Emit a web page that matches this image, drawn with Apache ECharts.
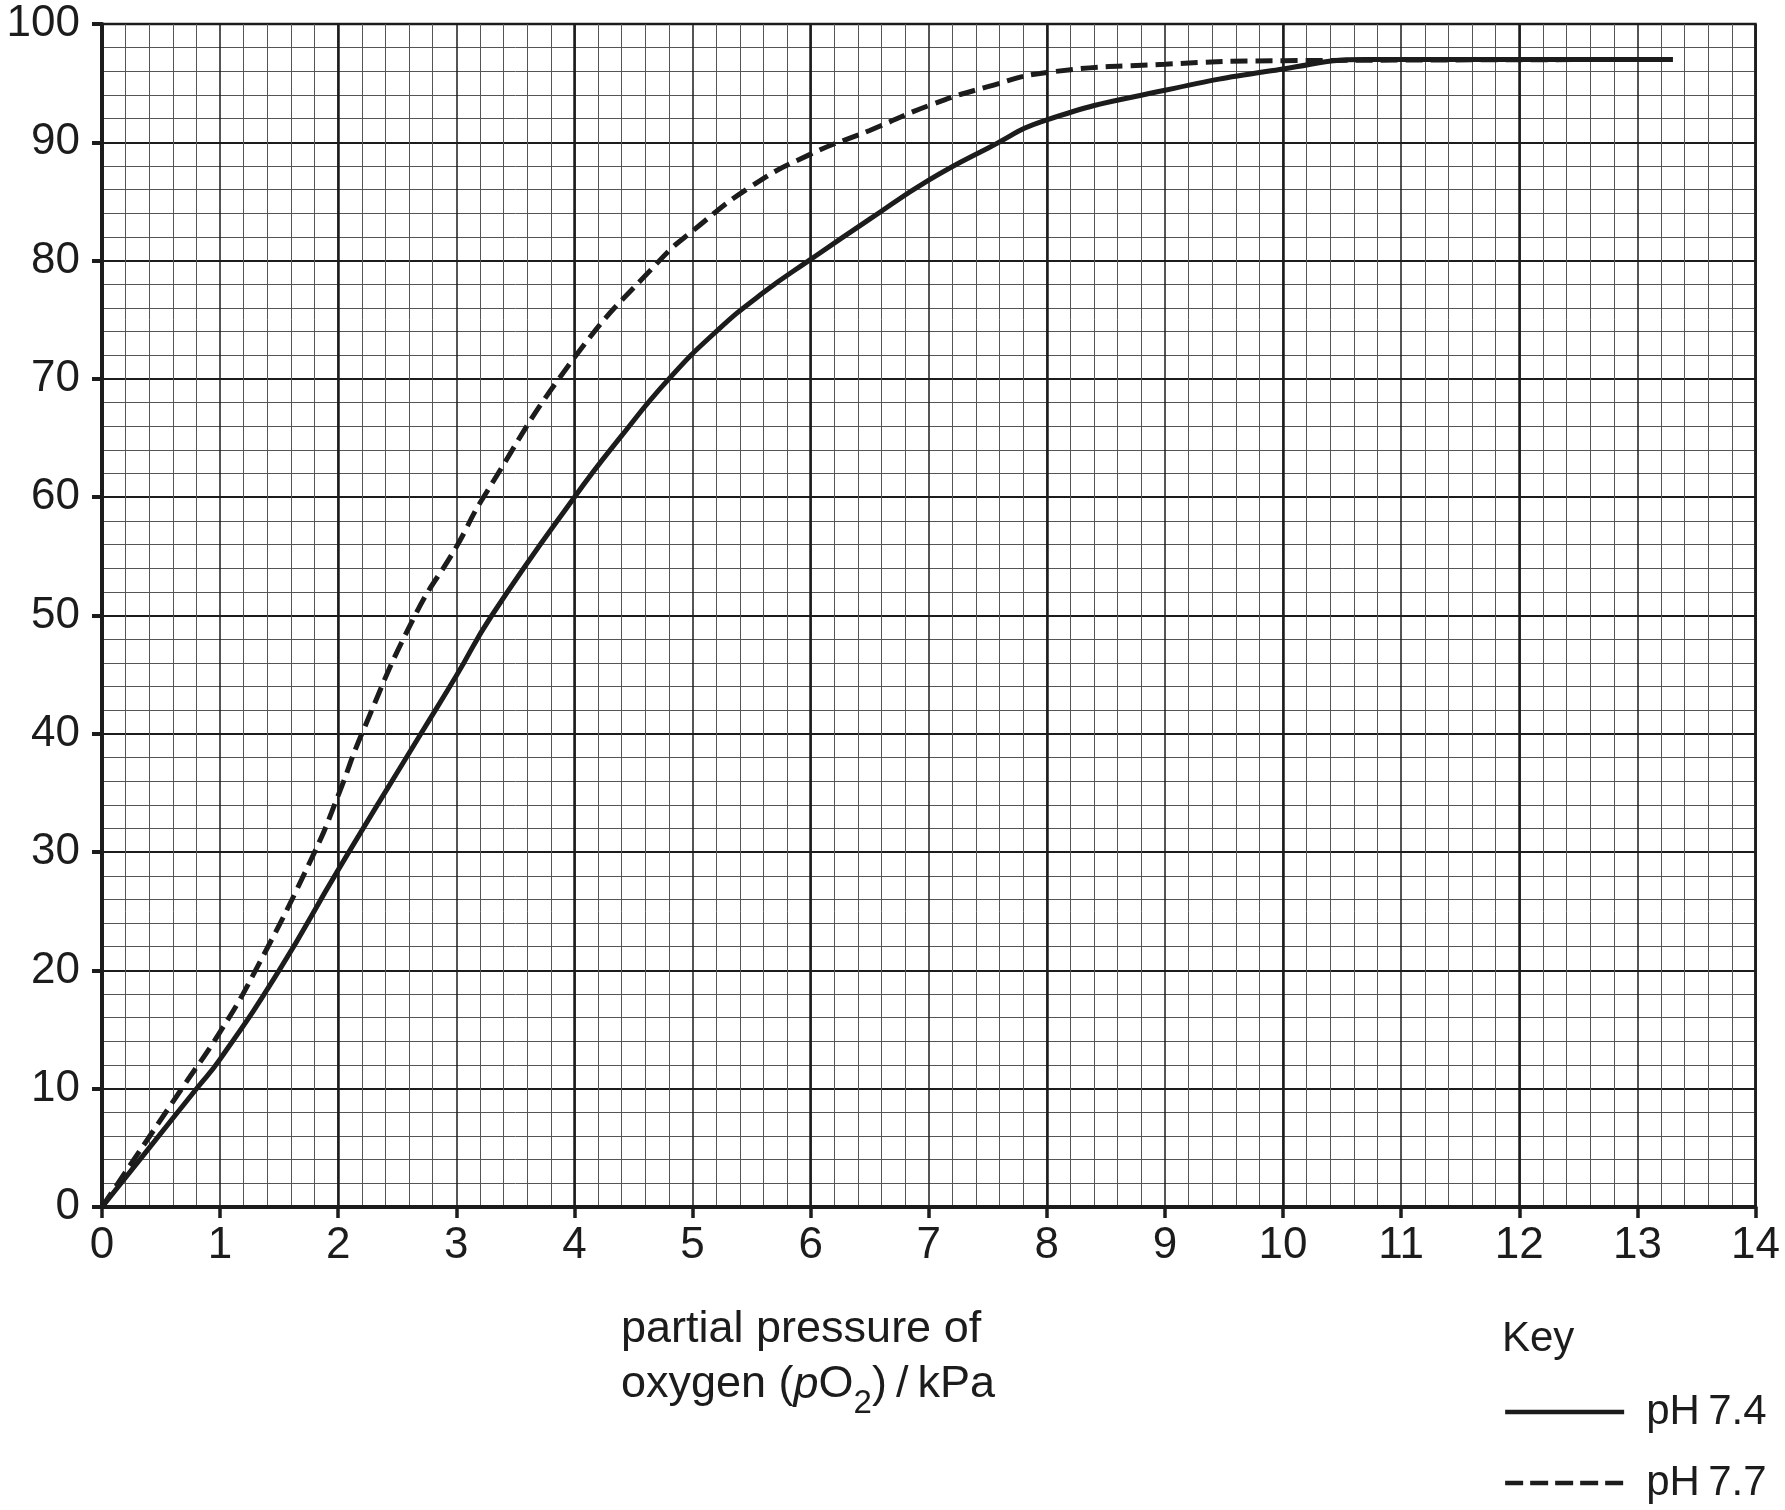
<!DOCTYPE html>
<html>
<head>
<meta charset="utf-8">
<script src="https://cdn.jsdelivr.net/npm/echarts@6/dist/echarts.min.js"></script>
<style>
  html, body { margin: 0; background: #fff; }
  #chart { width: 1785px; height: 1510px; }
</style>
</head>
<body>
<div id="chart"></div>
<script>
// [pO2 kPa, saturation %]
const ph74 = [
  [0, 0], [0.4, 5], [0.8, 10], [1, 12.5], [1.5, 20], [2, 28.5], [2.7, 40],
  [3, 44.9], [3.3, 50], [4, 60], [4.4, 65.2], [4.8, 70], [5.2, 74],
  [5.6, 77.3], [6, 80.1], [6.5, 83.5], [7, 86.8], [7.5, 89.5], [8, 91.9],
  [9, 94.4], [10, 96.2], [10.7, 97], [13.3, 97]
];
const ph77 = [
  [0, 0], [0.675, 10], [1, 14.8], [1.3, 20], [1.8, 30], [2, 34.8], [2.2, 40],
  [2.65, 50], [3, 55.8], [3.23, 60], [4, 71.8], [4.72, 80], [5, 82.5],
  [5.5, 86.3], [6, 89], [6.5, 91], [7, 93.1], [7.5, 94.7], [8, 95.9],
  [9, 96.6], [10, 96.9], [13.3, 97]
];
const seriesNames = ['pH\u20097.4', 'pH\u20097.7'];
const xRange = [0, 14];
const yRange = [0, 100];

const ink = '#1c1c1c';
const font = "'Liberation Sans', Arial, sans-serif";

const chart = echarts.init(document.getElementById('chart'));

const option = {
  animation: false,
  backgroundColor: '#fff',
  grid: {
    left: 102,
    top: 24,
    width: 1653.5,
    height: 1183,
    show: true,
    borderColor: '#222',
    borderWidth: 2.5,
    outerBoundsMode: 'none'
  },
  xAxis: [
    {
      type: 'value',
      min: xRange[0],
      max: xRange[1],
      interval: 1,
      axisLine: { show: true, onZero: false, lineStyle: { color: ink, width: 4 } },
      axisTick: { show: true, length: 11, lineStyle: { color: ink, width: 3.5 } },
      axisLabel: { fontSize: 44, fontFamily: font, color: ink, margin: 17 },
      splitLine: { show: true, lineStyle: { color: ink, width: 1.5 } },
      minorTick: { show: false, splitNumber: 5 },
      minorSplitLine: { show: true, lineStyle: { color: '#555', width: 1 } }
    },
    {
      // heavy rulings every 2 kPa
      type: 'value',
      min: xRange[0],
      max: xRange[1],
      interval: 2,
      axisLine: { show: false },
      axisTick: { show: false },
      axisLabel: { show: false },
      splitLine: { show: true, lineStyle: { color: ink, width: 2.5 } }
    }
  ],
  yAxis: {
    type: 'value',
    min: yRange[0],
    max: yRange[1],
    interval: 10,
    axisLine: { show: true, onZero: false, lineStyle: { color: ink, width: 4 } },
    axisTick: { show: true, length: 10, lineStyle: { color: ink, width: 4 } },
    axisLabel: { fontSize: 44, fontFamily: font, color: ink, margin: 22 },
    splitLine: { show: true, lineStyle: { color: ink, width: 2.2 } },
    minorTick: { show: false, splitNumber: 5 },
    minorSplitLine: { show: true, lineStyle: { color: '#555', width: 1 } }
  },
  legend: {
    data: [
      { name: seriesNames[0] },
      { name: seriesNames[1], lineStyle: { type: [18, 7] } }
    ],
    orient: 'vertical',
    left: 1503,
    top: 1387,
    padding: 0,
    itemWidth: 119,
    itemHeight: 50,
    itemGap: 21,
    selectedMode: false,
    itemStyle: { color: 'rgba(0,0,0,0)', borderWidth: 0 },
    lineStyle: { width: 4.3, color: ink },
    textStyle: { fontSize: 42, fontFamily: font, color: ink, lineHeight: 50, padding: [0, 0, 0, 17] }
  },
  graphic: [
    {
      type: 'text',
      x: 1502,
      y: 1339,
      style: { text: 'Key', fontSize: 42, fontFamily: font, fill: ink, verticalAlign: 'middle' }
    },
    {
      type: 'text',
      x: 621,
      y: 1330,
      style: {
        text: 'partial pressure of',
        fontSize: 45, fontFamily: font, fill: ink,
        verticalAlign: 'middle', lineHeight: 55
      }
    },
    {
      type: 'text',
      x: 621,
      y: 1385,
      style: {
        text: 'oxygen ({i|p}O{s|2})\u2009/\u2009kPa',
        fontSize: 45, fontFamily: font, fill: ink,
        verticalAlign: 'middle', lineHeight: 55,
        rich: {
          i: { fontSize: 45, fontFamily: font, fontStyle: 'italic', fill: ink, lineHeight: 55 },
          s: { fontSize: 33, fontFamily: font, fill: ink, lineHeight: 16, padding: [38, 0, 0, 0] }
        }
      }
    }
  ],
  series: [
    {
      name: seriesNames[0],
      type: 'line',
      data: ph74,
      symbol: 'none',
      smooth: 0.5,
      lineStyle: { color: ink, width: 5 },
      itemStyle: { color: ink },
      z: 3
    },
    {
      name: seriesNames[1],
      type: 'line',
      data: ph77,
      symbol: 'none',
      smooth: 0.5,
      lineStyle: { color: ink, width: 5, type: [17, 8] },
      itemStyle: { color: ink },
      z: 3
    }
  ]
};

chart.setOption(option);
window.addEventListener('resize', () => chart.resize());
</script>
</body>
</html>
